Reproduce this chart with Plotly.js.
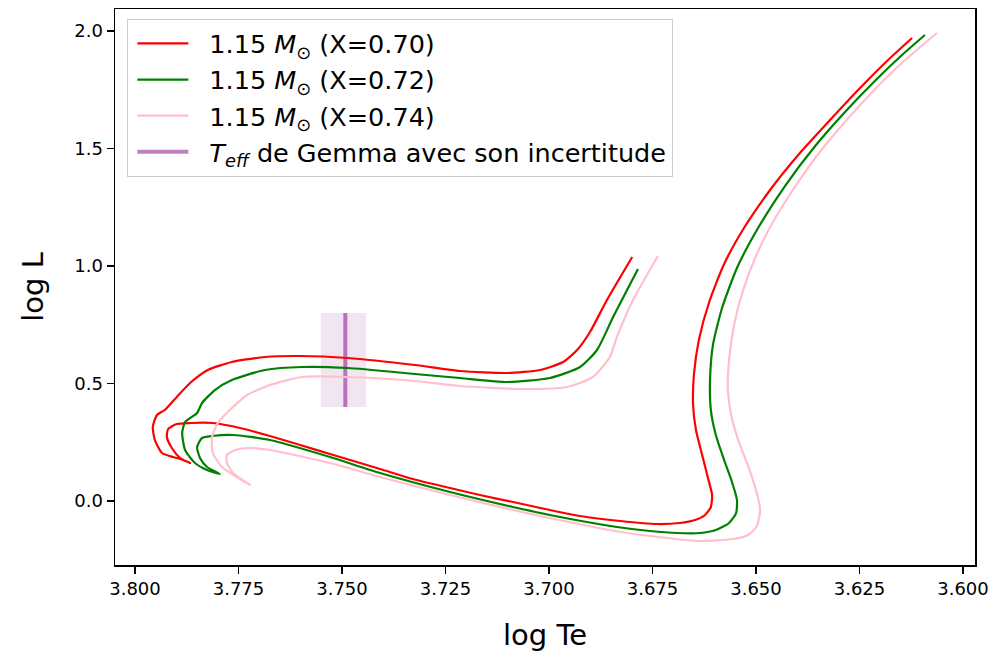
<!DOCTYPE html>
<html>
<head>
<meta charset="utf-8">
<script src="https://cdn.plot.ly/plotly-3.0.1.min.js"></script>
<style>html,body{margin:0;padding:0;background:#fff;}#chart{width:1000px;height:656px;}</style>
</head>
<body>
<div id="chart"></div>
<script>
// Track X=0.70 (red)
const logTe_070 = [3.6123,3.6181,3.6244,3.6319,3.6394,3.6466,3.6529,3.6577,3.6613,3.6638,3.6650,3.6652,3.6645,3.6630,3.6616,3.6606,3.6609,3.6623,3.6647,3.6684,3.6739,3.6828,3.6925,3.6998,3.7087,3.7167,3.7239,3.7329,3.7408,3.7529,3.7601,3.7674,3.7746,3.7812,3.7867,3.7899,3.7920,3.7923,3.7911,3.7891,3.7867,3.7884,3.7908,3.7935,3.7952,3.7957,3.7947,3.7928,3.7899,3.7867,3.7824,3.7766,3.7686,3.7601,3.7486,3.7324,3.7215,3.7101,3.7022,3.6966,3.6932,3.6901,3.6860,3.6799];
const logL_070  = [1.9702,1.8766,1.7660,1.6255,1.4809,1.3234,1.1617,1.0085,0.8468,0.6851,0.5362,0.4085,0.3021,0.1957,0.0979,0.0255,-0.0255,-0.0596,-0.0809,-0.0936,-0.0979,-0.0851,-0.0638,-0.0383,-0.0043,0.0255,0.0553,0.0936,0.1362,0.2000,0.2383,0.2766,0.3106,0.3319,0.3319,0.3277,0.3064,0.2723,0.2255,0.1830,0.1617,0.1745,0.1872,0.2043,0.2596,0.3149,0.3660,0.3872,0.4426,0.5021,0.5574,0.5915,0.6128,0.6170,0.6085,0.5787,0.5532,0.5447,0.5574,0.5915,0.6426,0.7191,0.8553,1.0383];

// Track X=0.72 (green)
const logTe_072 = [3.6092,3.6150,3.6213,3.6285,3.6357,3.6430,3.6495,3.6546,3.6582,3.6604,3.6611,3.6609,3.6597,3.6577,3.6558,3.6546,3.6548,3.6565,3.6597,3.6635,3.6691,3.6756,3.6836,3.6998,3.7087,3.7239,3.7408,3.7529,3.7674,3.7763,3.7814,3.7838,3.7850,3.7843,3.7826,3.7795,3.7826,3.7855,3.7879,3.7886,3.7879,3.7850,3.7838,3.7807,3.7766,3.7686,3.7597,3.7486,3.7324,3.7215,3.7101,3.6998,3.6925,3.6884,3.6845,3.6785];
const logL_072  = [1.9830,1.8936,1.7872,1.6553,1.5106,1.3404,1.1617,0.9915,0.8213,0.6638,0.5149,0.3872,0.2809,0.1745,0.0809,0.0043,-0.0511,-0.0936,-0.1234,-0.1362,-0.1362,-0.1277,-0.1106,-0.0596,-0.0255,0.0383,0.1191,0.1872,0.2596,0.2809,0.2766,0.2681,0.2298,0.1830,0.1447,0.1149,0.1319,0.1617,0.2170,0.2894,0.3362,0.3745,0.4170,0.4723,0.5149,0.5574,0.5702,0.5660,0.5404,0.5234,0.5064,0.5234,0.5702,0.6426,0.7830,0.9872];

// Track X=0.74 (pink)
const logTe_074 = [3.6063,3.6123,3.6184,3.6244,3.6302,3.6357,3.6411,3.6459,3.6500,3.6531,3.6553,3.6565,3.6568,3.6560,3.6543,3.6519,3.6500,3.6490,3.6498,3.6519,3.6556,3.6635,3.6756,3.6841,3.6998,3.7087,3.7239,3.7408,3.7529,3.7674,3.7722,3.7758,3.7778,3.7778,3.7763,3.7722,3.7754,3.7790,3.7812,3.7814,3.7800,3.7771,3.7729,3.7674,3.7597,3.7486,3.7324,3.7215,3.7063,3.6957,3.6894,3.6853,3.6836,3.6797,3.6737];
const logL_074  = [1.9915,1.9021,1.8043,1.6936,1.5787,1.4596,1.3234,1.1872,1.0426,0.8979,0.7489,0.6000,0.4723,0.3660,0.2596,0.1489,0.0468,-0.0383,-0.1064,-0.1447,-0.1617,-0.1702,-0.1489,-0.1277,-0.0723,-0.0383,0.0255,0.1021,0.1617,0.2170,0.2255,0.2170,0.1957,0.1617,0.1191,0.0681,0.1021,0.1447,0.2043,0.2723,0.3319,0.3872,0.4511,0.4936,0.5277,0.5277,0.5106,0.4894,0.4766,0.4851,0.5277,0.6128,0.6979,0.8553,1.0426];

// Gemma's Teff with uncertainty
const gemmaLogTe = 3.7492;
const gemmaLogTeMin = 3.7442;
const gemmaLogTeMax = 3.7551;
const gemmaLogL = [0.4, 0.8];

const seriesNames = [
  '1.15 <i>M</i><sub>⊙</sub> (X=0.70)',
  '1.15 <i>M</i><sub>⊙</sub> (X=0.72)',
  '1.15 <i>M</i><sub>⊙</sub> (X=0.74)',
  '<i>T</i><sub><i>eff</i></sub> de Gemma avec son incertitude'
];
const xTicks = [3.800,3.775,3.750,3.725,3.700,3.675,3.650,3.625,3.600];
const yTicks = [0.0,0.5,1.0,1.5,2.0];

const FONT = 'DejaVu Sans, sans-serif';

const traces = [
  {x:[gemmaLogTe,gemmaLogTe], y:gemmaLogL, mode:'lines', name:seriesNames[3], legendgroup:'d', legendrank:4,
   line:{color:'rgba(128,0,128,0.5)', width:4}, hoverinfo:'skip'},
  {x:logTe_070, y:logL_070, mode:'lines', name:seriesNames[0], legendgroup:'a', legendrank:1,
   line:{color:'#ff0000', width:2.2, shape:'spline', smoothing:0.6}},
  {x:logTe_072, y:logL_072, mode:'lines', name:seriesNames[1], legendgroup:'b', legendrank:2,
   line:{color:'#008000', width:2.2, shape:'spline', smoothing:0.6}},
  {x:logTe_074, y:logL_074, mode:'lines', name:seriesNames[2], legendgroup:'c', legendrank:3,
   line:{color:'#ffc0cb', width:2.2, shape:'spline', smoothing:0.6}}
];

const axisCommon = {
  showgrid:false, zeroline:false, showline:true, mirror:true,
  linecolor:'#000', linewidth:1.5, ticks:'outside', ticklen:7, tickwidth:1.5, tickcolor:'#000',
  tickfont:{family:FONT, size:18, color:'#000'}
};

const layout = {
  width:1000, height:656,
  margin:{l:115, r:25, t:9, b:91},
  paper_bgcolor:'#fff', plot_bgcolor:'#fff',
  font:{family:FONT, color:'#000'},
  showlegend:true,
  legend:{x:0.014, y:0.982, xanchor:'left', yanchor:'top',
    bgcolor:'rgba(255,255,255,0.8)', bordercolor:'#cccccc', borderwidth:1.3,
    font:{family:FONT, size:25.5, color:'#000'}, traceorder:'grouped', tracegroupgap:0,
    itemwidth:71},
  xaxis:Object.assign({}, axisCommon, {
    range:[3.80483, 3.59710], tickvals:xTicks, ticktext:xTicks.map(v=>v.toFixed(3)),
    title:{text:'log Te', font:{family:FONT, size:29, color:'#000'}, standoff:26}
  }),
  yaxis:Object.assign({}, axisCommon, {
    range:[-0.2723, 2.0936], tickvals:yTicks, ticktext:yTicks.map(v=>v.toFixed(1)),
    title:{text:'log L', font:{family:FONT, size:29, color:'#000'}, standoff:22}
  }),
  shapes:[{type:'rect', xref:'x', yref:'y', x0:gemmaLogTeMax, x1:gemmaLogTeMin, y0:gemmaLogL[0], y1:gemmaLogL[1],
    fillcolor:'rgba(128,0,128,0.1)', line:{width:0}, layer:'below'}]
};

Plotly.newPlot('chart', traces, layout, {displayModeBar:false, staticPlot:true}).then(function(gd){
  // lengthen legend line samples like matplotlib's handles
  gd.querySelectorAll('.legend .legendlines path').forEach(function(p){
    p.setAttribute('d', 'M9,0h51');
  });
});
</script>
</body>
</html>
